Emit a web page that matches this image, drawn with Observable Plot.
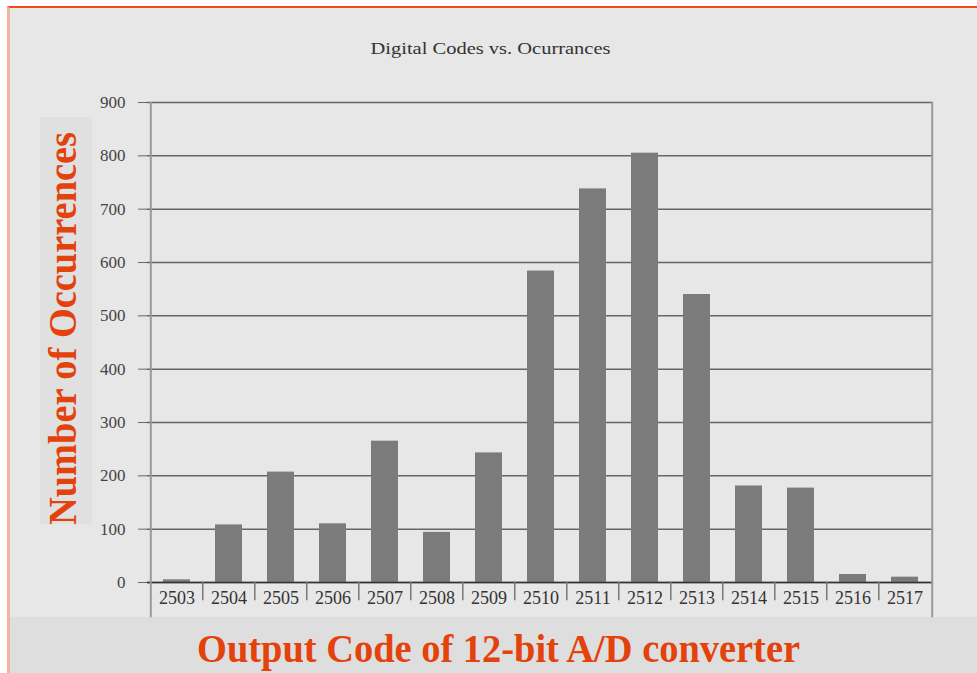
<!DOCTYPE html>
<html>
<head>
<meta charset="utf-8">
<script src="https://cdn.jsdelivr.net/npm/d3@7"></script>
<script src="https://cdn.jsdelivr.net/npm/@observablehq/plot@0.6"></script>
<style>
  html, body { margin: 0; padding: 0; background: #ffffff; }
  #wrap { position: relative; width: 977px; height: 673px; overflow: hidden; background: #ffffff; }
  #paper { position: absolute; left: 7px; top: 6px; right: 0; bottom: 0; background: #e7e7e7;
           border-top: 2px solid #ee4a12; border-left: 3px solid #f2b49a; }
  #band { position: absolute; left: 10px; top: 617px; right: 0; bottom: 0; background: #dedede; }
  #yband { position: absolute; left: 40px; top: 117px; width: 52px; height: 407px; background: #e0e0e0; }
  #chart { position: absolute; left: 0; top: 0; }
</style>
</head>
<body>
<div id="wrap">
  <div id="paper"></div>
  <div id="band"></div>
  <div id="yband"></div>
  <div id="chart"></div>
</div>
<script>
const codes = ["2503","2504","2505","2506","2507","2508","2509","2510","2511","2512","2513","2514","2515","2516","2517"];
const counts = [5, 108, 207, 110, 265, 94, 243, 584, 738, 805, 540, 181, 177, 15, 10];
const yTicks = [0, 100, 200, 300, 400, 500, 600, 700, 800, 900];
const titleText = "Digital Codes vs. Ocurrances";
const yLabelText = "Number of Occurrences";
const xLabelText = "Output Code of 12-bit A/D converter";

const data = codes.map((c, i) => ({code: c, count: counts[i]}));

const W = 977, H = 673;
const mL = 147, mR = 44, mT = 102, mB = 91;
const half = (W - mL - mR) / codes.length / 2;
const serif = "'Liberation Serif', 'DejaVu Serif', 'Times New Roman', serif";

const plot = Plot.plot({
  width: W,
  height: H,
  marginLeft: mL,
  marginRight: mR,
  marginTop: mT,
  marginBottom: mB,
  style: {background: "transparent", fontFamily: serif, color: "#333"},
  x: {domain: codes, paddingInner: 0.485, paddingOuter: 0.2425, label: null},
  y: {domain: [0, 900], label: null},
  marks: [
    Plot.ruleY(yTicks, {stroke: "#666", strokeWidth: 1.5}),
    Plot.barY(data, {x: "code", y: "count", fill: "#7b7b7b"}),
    Plot.ruleY([0], {stroke: "#333", strokeWidth: 1.5}),
    // category separators below the baseline
    Plot.ruleX(codes.slice(1), {x: d => d, y1: 0, y2: -34, dx: -half, stroke: "#777", strokeWidth: 1.5}),
    // left and right vertical axis lines
    Plot.ruleX([codes[0]], {x: d => d, y1: 900, y2: -66, dx: -half, stroke: "#999", strokeWidth: 2}),
    Plot.ruleX([codes[codes.length - 1]], {x: d => d, y1: 900, y2: -66, dx: half + 1, stroke: "#999", strokeWidth: 2}),
    Plot.axisY({ticks: yTicks, tickSize: 9, tickPadding: 13, fontSize: 17, stroke: "#666", fill: "#444", label: null}),
    Plot.axisX({tickSize: 0, tickPadding: 9, fontSize: 18, fill: "#333", label: null}),
    Plot.text([titleText], {frameAnchor: "top", dx: 490 - (mL + W - mR) / 2, dy: -61, fontSize: 17, fill: "#333", fontFamily: serif}),
    Plot.text([yLabelText], {frameAnchor: "left", textAnchor: "middle", lineAnchor: "middle", rotate: -90, dx: -84, dy: 328 - (mT + H - mB) / 2, fontSize: 40, fontWeight: "bold", fill: "#e3420c", fontFamily: serif}),
    Plot.text([xLabelText], {frameAnchor: "bottom", dx: 498 - (mL + W - mR) / 2, dy: 79, fontSize: 40, fontWeight: "bold", fill: "#e3420c", fontFamily: serif})
  ]
});

const lengths = {};
lengths[titleText] = 240;
lengths[yLabelText] = 393;
lengths[xLabelText] = 603;
d3.select(plot).selectAll("text").each(function() {
  const t = this.textContent;
  if (lengths[t]) {
    d3.select(this).attr("textLength", lengths[t]).attr("lengthAdjust", "spacingAndGlyphs");
  }
});

document.getElementById("chart").appendChild(plot);
</script>
</body>
</html>
